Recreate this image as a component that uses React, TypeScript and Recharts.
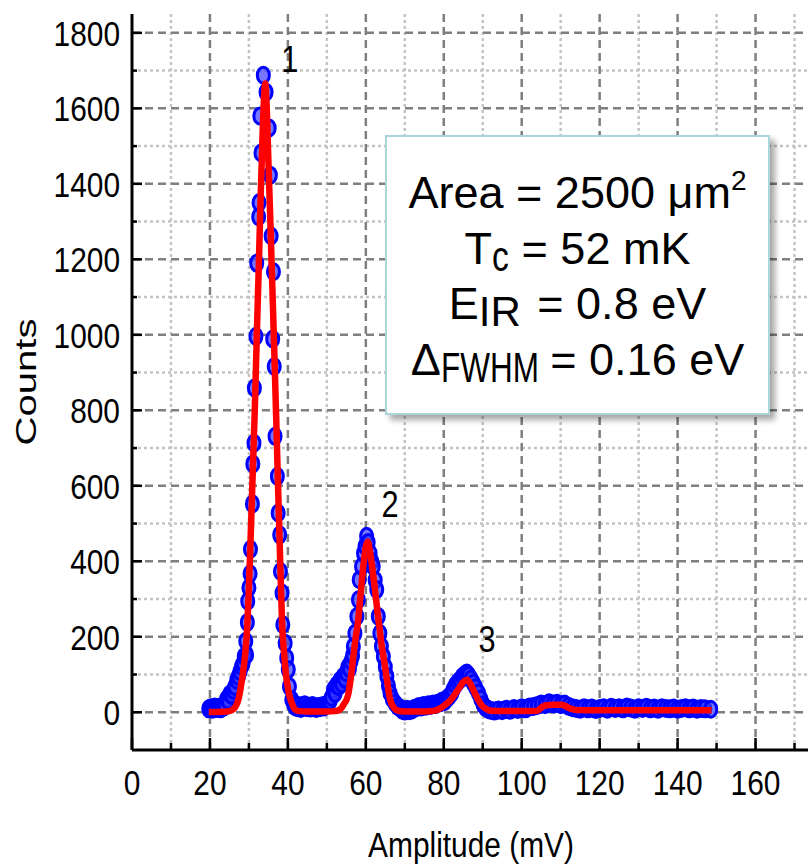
import React from "react";
import {
  ComposedChart,
  Scatter,
  XAxis,
  YAxis,
  CartesianGrid,
  ReferenceDot,
} from "recharts";

// measured histogram (blue circles)
const blueAmp = [
  19.7, 20.2, 20.7, 21.2, 21.7, 22.2, 22.7, 23.2, 23.6, 23.9, 24.3, 24.7, 25.1, 25.6, 26.0, 26.4, 26.9, 27.3,
  27.7, 28.1, 28.5, 28.8, 29.2, 29.4, 29.6, 29.7, 30.0, 30.3, 30.4, 30.9, 31.0, 31.3, 31.4, 31.8, 32.0, 32.5,
  32.6, 32.8, 33.1, 33.7, 34.4, 35.2, 35.5, 35.7, 36.1, 36.3, 36.5, 36.7, 37.3, 37.5, 37.9, 38.1, 38.5, 38.7,
  39.3, 39.7, 40.1, 40.4, 41.0, 41.5, 41.8, 42.3, 42.8, 43.3, 43.8, 44.3, 44.8, 45.3, 45.8, 46.3, 46.8, 47.3,
  47.8, 48.3, 48.8, 49.3, 49.8, 50.3, 50.8, 51.2, 51.7, 52.1, 52.5, 53.0, 53.4, 53.8, 54.2, 54.6, 55.0, 55.4,
  55.8, 56.2, 56.6, 56.8, 57.2, 57.7, 58.1, 58.3, 58.9, 59.4, 59.8, 60.2, 60.6, 61.1, 61.5, 61.9, 62.4, 62.8,
  63.2, 63.6, 64.0, 64.5, 65.0, 65.4, 65.8, 66.2, 66.8, 67.5, 68.2, 68.8, 69.4, 70.0, 70.6, 71.2, 71.8, 72.4,
  73.0, 73.6, 74.2, 74.8, 75.4, 76.0, 76.6, 77.2, 77.8, 78.4, 79.0, 79.6, 80.2, 80.8, 81.4, 82.0, 82.4, 83.0,
  83.6, 84.2, 84.8, 85.4, 85.9, 86.4, 87.0, 87.6, 88.2, 88.9, 89.5, 90.1, 90.7, 91.3, 92, 93, 94, 95, 96, 97,
  98, 99, 100, 101, 102, 103, 104, 105, 106, 107, 108, 109, 110, 111, 112, 113, 114, 115, 116, 117, 118, 119,
  120, 121, 122, 123, 124, 125, 126, 127, 128, 129, 130, 131, 132, 133, 134, 135, 136, 137, 138, 139, 140, 141,
  142, 143, 144, 145, 146, 147, 148.5,
];
const blueCounts = [
  9, 12, 8, 14, 10, 13, 9, 15, 14, 20, 35, 30, 48, 45, 58, 68, 85, 95,
  108, 121, 130, 148, 188, 152, 238, 294, 330, 367, 432, 552, 658, 713, 859, 996, 1190, 1313,
  1350, 1580, 1482, 1688, 1643, 1548, 1423, 1262, 989, 1167, 916, 731, 625, 528, 470, 373, 316, 232,
  183, 144, 113, 68, 33, 22, 15, 12, 18, 10, 14, 20, 12, 16, 11, 18, 13, 10,
  15, 12, 17, 14, 20, 22, 30, 40, 60, 50, 72, 68, 85, 75, 95, 88, 105, 120,
  115, 135, 150, 174, 209, 254, 298, 351, 386, 421, 440, 466, 450, 421, 400, 386, 350, 325,
  254, 209, 175, 148, 120, 95, 70, 51, 35, 24, 15, 11, 5, 3, 8, 4, 6, 10,
  12, 15, 14, 18, 16, 20, 18, 22, 20, 24, 25, 30, 28, 35, 42, 50, 60, 72,
  80, 86, 95, 100, 104, 98, 88, 77, 65, 51, 35, 20, 12, 8, 5, 3, 6, 4, 8, 5,
  10, 7, 12, 9, 14, 15, 18, 22, 20, 25, 22, 24, 20, 22, 16, 12, 10, 8, 12, 9, 11, 7,
  10, 12, 8, 13, 10, 12, 9, 14, 11, 8, 12, 10, 13, 9, 11, 8, 12, 10, 9, 11, 8, 10,
  12, 9, 11, 8, 10, 9, 8,
];

// fitted curve (red)
const fitAmp = [
  19.7, 22, 24, 25, 26, 26.5, 27, 27.5, 28, 28.5, 29, 29.5, 30, 30.5, 31, 31.5, 32, 32.5, 33, 33.5, 34, 34.2,
  34.5, 35, 35.5, 36, 36.5, 37, 37.5, 38, 38.5, 39, 39.5, 40, 40.5, 41, 41.5, 42, 43, 45, 50, 52, 53, 53.5,
  54, 54.5, 55, 55.5, 56, 56.5, 57, 57.5, 58, 58.5, 59, 59.5, 60, 60.5, 61, 61.5, 62, 62.5, 63, 63.5, 64,
  64.5, 65, 65.5, 66, 66.5, 67, 68, 70, 75, 78, 79, 80, 81, 82, 83, 84, 85, 86, 87, 88, 89, 90, 91, 92, 95,
  100, 104, 105, 106, 108, 110, 111, 112, 113, 114, 120, 130, 140, 148.7,
];
const fitCounts = [
  1, 1, 2, 3, 8, 14, 24, 42, 72, 105, 150, 215, 330, 480, 640, 800, 990, 1170, 1360, 1530, 1650, 1666,
  1620, 1460, 1300, 1130, 960, 780, 590, 410, 240, 160, 100, 65, 40, 25, 12, 6, 3, 2, 2, 3, 5, 9,
  15, 24, 32, 48, 80, 120, 165, 205, 240, 295, 350, 400, 440, 452, 430, 395, 355, 310, 265, 225, 180,
  150, 115, 80, 45, 25, 15, 5, 2, 2, 5, 10, 17, 25, 35, 50, 65, 80, 86, 72, 50, 30, 15, 8, 4, 3,
  3, 4, 12, 18, 20, 20, 18, 12, 8, 6, 5, 5, 5, 5,
];

const xTicks = [0, 10, 20, 30, 40, 50, 60, 70, 80, 90, 100, 110, 120, 130, 140, 150, 160, 170];
const yTicks = [0, 100, 200, 300, 400, 500, 600, 700, 800, 900, 1000, 1100, 1200, 1300, 1400, 1500, 1600, 1700, 1800];
const xGridMajor = [20, 40, 60, 80, 100, 120, 140, 160];
const xGridMinor = [10, 30, 50, 70, 90, 110, 130, 150, 170];
const yGridMajor = [0, 200, 400, 600, 800, 1000, 1200, 1400, 1600, 1800];
const yGridMinor = [100, 300, 500, 700, 900, 1100, 1300, 1500, 1700];

const peakNames = ["1", "2", "3"];
const peakAmp = [40.5, 66.2, 91.1];
const peakCounts = [1697, 518, 160];

const blueData = blueAmp.map((a, i) => ({ amp: a, counts: blueCounts[i] }));
const fitData = fitAmp.map((a, i) => ({ amp: a, counts: fitCounts[i] }));

const FONT = '"Liberation Sans", Arial, sans-serif';

const LeftTick = (props: any) => {
  const { x, y, payload } = props;
  const major = payload.value % 200 === 0;
  return (
    <g>
      <line x1={x} x2={x + (major ? 10 : 5)} y1={y} y2={y} stroke="#000" strokeWidth={2.5} />
      {major && (
        <text
          transform={`translate(${x - 12},${y}) scale(0.83,1)`}
          textAnchor="end"
          dy="0.36em"
          fontSize={36}
          fontFamily={FONT}
          fill="#000"
        >
          {payload.value}
        </text>
      )}
    </g>
  );
};

const RightTick = (props: any) => {
  const { x, y, payload } = props;
  const major = payload.value % 200 === 0;
  return <line x1={x} x2={x - (major ? 10 : 5)} y1={y} y2={y} stroke="#000" strokeWidth={2.5} />;
};

const BottomTick = (props: any) => {
  const { x, y, payload } = props;
  const major = payload.value % 20 === 0;
  return (
    <g>
      <line x1={x} x2={x} y1={y} y2={y - (major ? 12 : 7)} stroke="#000" strokeWidth={2.5} />
      {major && (
        <text
          transform={`translate(${x},${y + 45}) scale(0.83,1)`}
          textAnchor="middle"
          fontSize={36}
          fontFamily={FONT}
          fill="#000"
        >
          {payload.value}
        </text>
      )}
    </g>
  );
};

const TopTick = (props: any) => {
  const { x, y, payload } = props;
  const major = payload.value % 20 === 0;
  return <line x1={x} x2={x} y1={y} y2={y + (major ? 12 : 7)} stroke="#000" strokeWidth={2.5} />;
};

const XTitle = (props: any) => {
  const vb = props.viewBox;
  return (
    <text
      transform={`translate(${vb.x + vb.width / 2 - 2},${vb.y + 107}) scale(0.83,1)`}
      textAnchor="middle"
      fontSize={36}
      fontFamily={FONT}
      fill="#000"
    >
      Amplitude (mV)
    </text>
  );
};

const YTitle = (props: any) => {
  const vb = props.viewBox;
  return (
    <text
      transform={`translate(36,${vb.y + vb.height / 2}) scale(1,1.38) rotate(-90)`}
      textAnchor="middle"
      fontSize={29}
      fontFamily={FONT}
      fill="#000"
    >
      Counts
    </text>
  );
};

const Dot = (props: any) => (
  <ellipse
    cx={props.cx}
    cy={props.cy}
    rx={6}
    ry={8}
    fill="#3c3cff"
    fillOpacity={0.7}
    stroke="#0000ff"
    strokeWidth={3}
  />
);

const NoDot = () => <g />;

const Sub = ({ w, s, children }: { w: number; s: number; children: React.ReactNode }) => (
  <span style={{ display: "inline-block", width: w, fontSize: 42, lineHeight: 1, position: "relative", top: 7, textAlign: "left" }}>
    <span style={{ display: "inline-block", transform: `scaleX(${s})`, transformOrigin: "left", whiteSpace: "nowrap" }}>
      {children}
    </span>
  </span>
);

export default function App() {
  return (
    <div style={{ position: "fixed", left: 0, top: 0, width: 808, height: 868, overflow: "hidden", background: "#fff" }}>
      <ComposedChart width={830} height={868} margin={{ top: 14, right: 16, bottom: 0, left: 0 }}>
        <CartesianGrid
          horizontalValues={yGridMinor}
          verticalValues={xGridMinor}
          stroke="#c4c4c4"
          strokeWidth={2.5}
          strokeDasharray="3 3"
        />
        <CartesianGrid
          horizontalValues={yGridMajor}
          verticalValues={xGridMajor}
          stroke="#7f7f7f"
          strokeWidth={2.5}
          strokeDasharray="8 5"
        />
        <XAxis
          dataKey="amp"
          type="number"
          domain={[0, 175]}
          ticks={xTicks}
          allowDataOverflow
          height={118}
          tickSize={0}
          tickMargin={0}
          tickLine={false}
          tick={<BottomTick />}
          axisLine={{ stroke: "#000", strokeWidth: 3 }}
          label={<XTitle />}
        />
        <XAxis
          xAxisId="top"
          orientation="top"
          dataKey="amp"
          type="number"
          domain={[0, 175]}
          ticks={xTicks}
          allowDataOverflow
          height={0}
          tickSize={0}
          tickMargin={0}
          tickLine={false}
          tick={<TopTick />}
          axisLine={{ stroke: "#000", strokeWidth: 3 }}
        />
        <YAxis
          type="number"
          domain={[-100, 1850]}
          ticks={yTicks}
          allowDataOverflow
          width={132}
          tickSize={0}
          tickMargin={0}
          tickLine={false}
          tick={<LeftTick />}
          axisLine={{ stroke: "#000", strokeWidth: 3 }}
          label={<YTitle />}
        />
        <YAxis
          yAxisId="right"
          orientation="right"
          type="number"
          domain={[-100, 1850]}
          ticks={yTicks}
          allowDataOverflow
          width={0}
          tickSize={0}
          tickMargin={0}
          tickLine={false}
          tick={<RightTick />}
          axisLine={{ stroke: "#000", strokeWidth: 3 }}
        />
        <Scatter data={blueData} dataKey="counts" shape={<Dot />} isAnimationActive={false} />
        <Scatter
          data={fitData}
          dataKey="counts"
          shape={<NoDot />}
          line={{ stroke: "#ff0000", strokeWidth: 6.5, fill: "none", strokeLinejoin: "round" }}
          lineJointType="monotoneX"
          isAnimationActive={false}
        />
        {peakNames.map((name, i) => (
          <ReferenceDot
            key={name}
            x={peakAmp[i]}
            y={peakCounts[i]}
            r={0}
            shape={(p: any) => (
              <text
                transform={`translate(${p.cx},${p.cy}) scale(0.83,1)`}
                textAnchor="middle"
                fontSize={37}
                fontFamily={FONT}
                fill="#000"
              >
                {name}
              </text>
            )}
          />
        ))}
      </ComposedChart>
      <div
        style={{
          position: "absolute",
          left: 385,
          top: 135,
          width: 385,
          height: 280,
          boxSizing: "border-box",
          border: "2px solid #aad6da",
          background: "#fff",
          boxShadow: "5px 5px 6px rgba(0,0,0,0.35)",
          fontFamily: FONT,
          fontSize: 45,
          lineHeight: "55.5px",
          textAlign: "center",
          paddingTop: 28,
          color: "#000",
        }}
      >
        <div>
          Area = 2500 μm
          <span style={{ fontSize: 28, position: "relative", top: -18, lineHeight: 0 }}>2</span>
        </div>
        <div>
          T<Sub w={17} s={0.8}>c</Sub> = 52 mK
        </div>
        <div>
          E<Sub w={46} s={1}>IR</Sub> = 0.8 eV
        </div>
        <div>
          Δ<Sub w={97} s={0.75}>FWHM</Sub> = 0.16 eV
        </div>
      </div>
    </div>
  );
}
